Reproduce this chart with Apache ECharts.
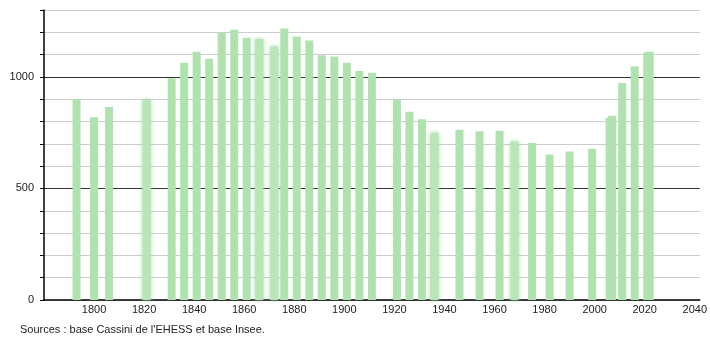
<!DOCTYPE html>
<html>
<head>
<meta charset="utf-8">
<script src="https://cdn.jsdelivr.net/npm/echarts@6/dist/echarts.min.js"></script>
<style>
html,body{margin:0;padding:0;background:#fff;}
#chart{width:710px;height:340px;}
</style>
</head>
<body>
<div id="chart"></div>
<script>
const years = [1793,1800,1806,1821,1831,1836,1841,1846,1851,1856,1861,1866,1872,1876,1881,1886,1891,1896,1901,1906,1911,1921,1926,1931,1936,1946,1954,1962,1968,1975,1982,1990,1999,2006,2007,2011,2016,2021,2022];
const population = [901,819,865,898,994,1064,1113,1082,1199,1212,1176,1170,1136,1217,1181,1163,1097,1091,1064,1027,1019,900,844,810,750,763,756,759,710,704,652,666,678,817,826,973,1048,1110,1113];
const xTickLabels = [1800,1820,1840,1860,1880,1900,1920,1940,1960,1980,2000,2020,2040];
const yTickLabels = [0,500,1000];
const sourceText = "Sources : base Cassini de l'EHESS et base Insee.";

const fuzzyYears = new Set([1821,1866,1872,1936,1968]);
const barColor = '#b0e2b0';

const data = years.map((y, i) => {
  const item = { value: [y, population[i]] };
  if (fuzzyYears.has(y)) {
    item.itemStyle = { color: '#b8e6b8', shadowBlur: 4, shadowColor: 'rgba(150,215,150,0.9)' };
  }
  return item;
});

const chart = echarts.init(document.getElementById('chart'), null, {renderer: 'canvas'});
chart.setOption({
  animation: false,
  backgroundColor: '#fff',
  textStyle: { fontFamily: 'Liberation Sans, Arial, sans-serif' },
  grid: { left: 44, right: 9, top: 10, bottom: 40, containLabel: false },
  graphic: [{
    type: 'text', left: 20, top: 324,
    style: { text: sourceText, fontSize: 11, fill: '#222', fontFamily: 'Liberation Sans, Arial, sans-serif' }
  }],
  xAxis: {
    type: 'value', min: 1780, max: 2042, interval: 20,
    axisLine: { show: true, lineStyle: { color: '#000', width: 1.5 } },
    axisTick: { show: false },
    splitLine: { show: false },
    axisLabel: {
      fontSize: 11, color: '#222', margin: 4,
      formatter: v => xTickLabels.includes(v) ? String(v) : ''
    }
  },
  yAxis: [{
    type: 'value', min: 0, max: 1300, interval: 100,
    axisLine: { show: true, lineStyle: { color: '#000', width: 1.5 } },
    axisTick: { show: true, length: 4, lineStyle: { color: '#000' } },
    splitLine: { show: true, lineStyle: { color: '#cccccc', width: 1 } },
    axisLabel: {
      fontSize: 11, color: '#222', margin: 10,
      formatter: v => yTickLabels.includes(v) ? String(v) : ''
    }
  }, {
    type: 'value', min: 0, max: 1300, interval: 500, position: 'left',
    axisLine: { show: false }, axisTick: { show: false }, axisLabel: { show: false },
    splitLine: { show: true, showMinLine: false, showMaxLine: false, lineStyle: { color: '#333', width: 1 } }
  }],
  series: [{
    type: 'bar',
    yAxisIndex: 0,
    barWidth: 8,
    itemStyle: { color: barColor },
    data: data,
    z: 3
  }]
});
</script>
</body>
</html>
